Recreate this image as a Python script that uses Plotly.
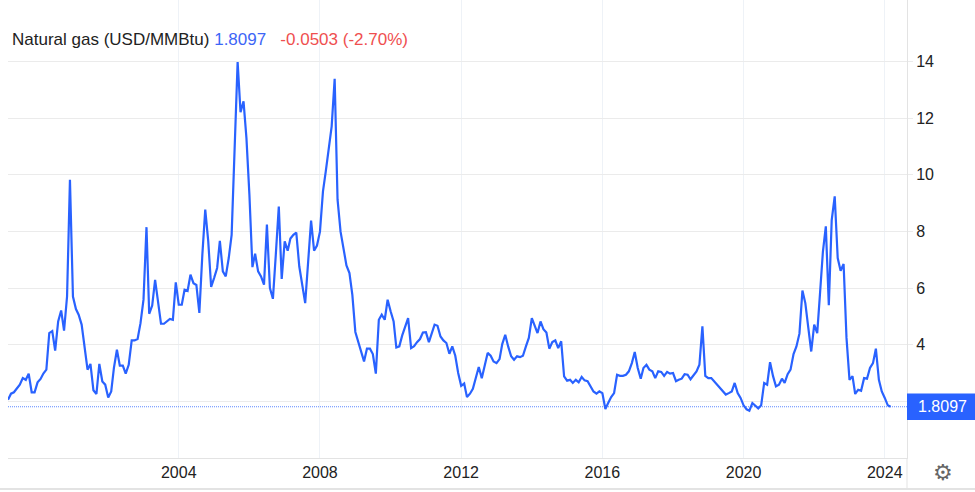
import pandas as pd
import plotly.graph_objects as go

# ---- data ----
series_title = "Natural gas (USD/MMBtu)"
last_value_text = "1.8097"
change_text = "-0.0503 (-2.70%)"
start_month = "1999-03-01"

v1999 = [2.06, 2.27, 2.32, 2.44, 2.59, 2.82, 2.76, 2.98, 2.32, 2.32]
v2000 = [2.67, 2.79, 2.98, 3.12, 4.41, 4.48, 3.79, 4.82, 5.21, 4.50, 5.70, 9.82]
v2001 = [5.70, 5.26, 5.06, 4.71, 3.94, 3.12, 3.32, 2.39, 2.26, 3.32, 2.70, 2.59]
v2002 = [2.14, 2.35, 3.18, 3.82, 3.26, 3.26, 2.98, 3.29, 4.15, 4.15, 4.20, 4.76]
v2003 = [5.59, 8.15, 5.09, 5.38, 6.29, 5.47, 4.74, 4.74, 4.82, 4.91, 4.88, 6.20]
v2004 = [5.41, 5.41, 5.94, 5.90, 6.47, 6.17, 6.11, 5.12, 7.18, 8.77, 7.65, 6.04]
v2005 = [6.36, 6.71, 7.67, 6.59, 6.41, 7.06, 7.88, 10.71, 13.98, 12.21, 12.59, 11.30]
v2006 = [9.29, 6.74, 7.21, 6.59, 6.41, 6.12, 8.24, 6.00, 5.62, 7.18, 8.88, 6.32]
v2007 = [7.65, 7.32, 7.75, 7.88, 7.96, 6.76, 6.12, 5.47, 6.94, 8.38, 7.32, 7.50]
v2008 = [7.99, 9.41, 10.12, 10.94, 11.71, 13.39, 9.12, 7.99, 7.41, 6.80, 6.53, 5.76]
v2009 = [4.45, 4.06, 3.77, 3.41, 3.86, 3.86, 3.67, 2.98, 4.88, 5.06, 4.88, 5.59]
v2010 = [5.18, 4.82, 3.90, 3.94, 4.33, 4.62, 4.94, 3.88, 3.95, 4.09, 4.20, 4.43]
v2011 = [4.44, 4.09, 4.43, 4.71, 4.67, 4.29, 4.15, 4.06, 3.68, 3.94, 3.61, 3.00]
v2012 = [2.55, 2.63, 2.15, 2.27, 2.44, 2.82, 3.21, 2.82, 3.29, 3.71, 3.61, 3.41]
v2013 = [3.35, 3.49, 4.02, 4.35, 3.94, 3.59, 3.47, 3.59, 3.56, 3.61, 3.94, 4.24]
v2014 = [4.94, 4.65, 4.41, 4.82, 4.55, 4.43, 3.86, 4.09, 4.15, 3.88, 4.12, 2.88]
v2015 = [2.73, 2.76, 2.65, 2.76, 2.67, 2.86, 2.74, 2.71, 2.53, 2.35, 2.27, 2.35]
v2016 = [2.29, 1.73, 1.94, 2.15, 2.29, 2.94, 2.90, 2.90, 2.94, 3.06, 3.35, 3.74]
v2017 = [3.18, 2.80, 3.18, 3.29, 3.12, 3.06, 2.82, 3.06, 3.04, 2.90, 3.04, 2.98]
v2018 = [3.00, 2.71, 2.76, 2.80, 2.96, 2.94, 2.78, 2.94, 3.06, 3.29, 4.65, 2.90]
v2019 = [2.82, 2.82, 2.71, 2.59, 2.47, 2.32, 2.24, 2.29, 2.35, 2.65, 2.29, 2.12]
v2020 = [1.86, 1.72, 1.67, 1.94, 1.86, 1.75, 1.86, 2.65, 2.59, 3.38, 2.89, 2.53]
v2021 = [2.59, 2.80, 2.65, 2.96, 3.12, 3.67, 3.94, 4.39, 5.91, 5.47, 4.59, 3.76]
v2022 = [4.71, 4.41, 5.76, 7.29, 8.18, 5.39, 8.40, 9.24, 7.06, 6.61, 6.85, 4.24]
v2023 = [2.76, 2.89, 2.26, 2.41, 2.37, 2.82, 2.80, 3.18, 3.35, 3.86, 2.76, 2.35]
v2024 = [2.12, 1.86, 1.8097]

values = (v1999 + v2000 + v2001 + v2002 + v2003 + v2004 + v2005 + v2006 + v2007
          + v2008 + v2009 + v2010 + v2011 + v2012 + v2013 + v2014 + v2015 + v2016
          + v2017 + v2018 + v2019 + v2020 + v2021 + v2022 + v2023 + v2024)
dates = pd.date_range(start_month, periods=len(values), freq="MS")
last_price = values[-1]

x_tickyears = ["2004", "2008", "2012", "2016", "2020", "2024"]
y_ticks = [2, 4, 6, 8, 10, 12, 14]
y_ticktext = ["", "4", "6", "8", "10", "12", "14"]

# ---- style ----
BLUE = "#2962ff"
FONT = "Arial, Liberation Sans, sans-serif"
TXT = "#222222"

fig = go.Figure()
fig.add_trace(go.Scatter(x=dates, y=values, mode="lines",
                         line=dict(color=BLUE, width=2.2), hoverinfo="skip",
                         showlegend=False))

fig.update_layout(
    width=975, height=492,
    margin=dict(l=8, r=68, t=0, b=34),
    paper_bgcolor="white", plot_bgcolor="white",
    font=dict(family=FONT, size=16, color=TXT),
    xaxis=dict(
        range=["1999-03-01", "2024-08-18"],
        tickvals=[f"{y}-01-01" for y in x_tickyears], ticktext=x_tickyears,
        showgrid=True, gridcolor="#eef2f7", gridwidth=1,
        showline=True, linecolor="#e3e3e3", linewidth=1,
        ticks="", zeroline=False, automargin=False,
        tickfont=dict(family=FONT, size=16, color=TXT),
    ),
    yaxis=dict(
        side="right", range=[0, 16.17],
        tickvals=y_ticks, ticktext=y_ticktext,
        showgrid=True, gridcolor="#ebebeb", gridwidth=1,
        showline=True, linecolor="#e3e3e3", linewidth=1,
        ticks="outside", ticklen=5, tickcolor="#ebebeb",
        zeroline=False, automargin=False,
        tickfont=dict(family=FONT, size=16, color=TXT),
    ),
)

# dotted last-price line
fig.add_shape(type="line", xref="paper", yref="y", x0=0, x1=1,
              y0=last_price, y1=last_price,
              line=dict(color=BLUE, width=1, dash="1px,1px"), opacity=0.75)

# price label box on the axis
fig.add_shape(type="rect", xref="paper", yref="y", x0=1.0, x1=1.08,
              y0=last_price - 0.47, y1=last_price + 0.47,
              fillcolor=BLUE, line=dict(width=0), layer="above")
fig.add_annotation(xref="paper", yref="y", x=1.0 + 9 / 899, y=last_price,
                   xanchor="left", yanchor="middle", showarrow=False,
                   text=last_value_text,
                   font=dict(family=FONT, size=16, color="white"))

# bottom border & separator
fig.add_shape(type="line", xref="paper", yref="paper", x0=-0.01, x1=1.08,
              y0=-31 / 458, y1=-31 / 458, line=dict(color="#e3e3e3", width=2))
fig.add_shape(type="line", xref="paper", yref="paper", x0=1, x1=1,
              y0=-31 / 458, y1=0, line=dict(color="#e3e3e3", width=1))

# header
fig.add_annotation(
    xref="paper", yref="paper", x=2 / 899, y=1 - 40 / 458,
    xanchor="left", yanchor="middle", showarrow=False,
    text=(f"{series_title} <span style='color:#3d66f6'>{last_value_text}</span>"
          f"&nbsp;&nbsp;&nbsp;<span style='color:#ef4f4f'>{change_text}</span>"),
    font=dict(family=FONT, size=17, color=TXT),
)

# settings gear
fig.add_annotation(xref="paper", yref="paper", x=1 + 36 / 899, y=-15 / 458,
                   xanchor="center", yanchor="middle", showarrow=False,
                   text="\u2699", font=dict(family="DejaVu Sans", size=22, color="#666666"))

fig.write_html("out.html", config={"displayModeBar": False},
               post_script="document.body.style.margin='0';")
